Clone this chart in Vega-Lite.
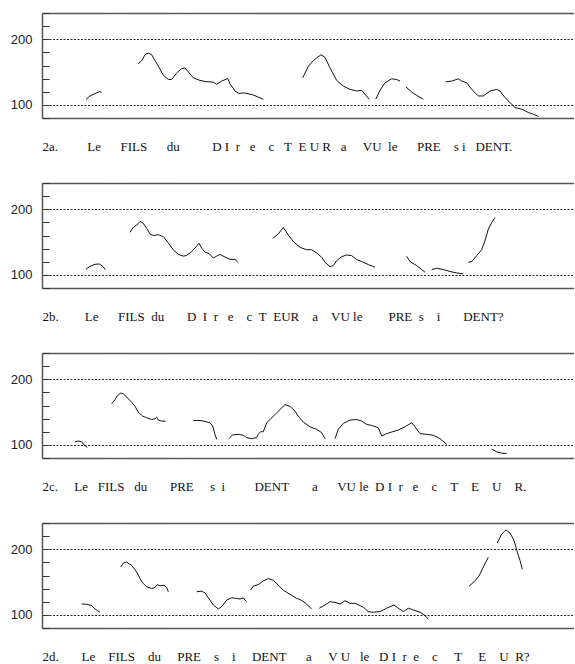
{
"$schema": "https://vega.github.io/schema/vega-lite/v6.json",
"padding": {"left": 10, "top": 12, "right": 0, "bottom": 0},
"background": "white",
"bounds": "flush",
"spacing": 65,
"config": {
  "view": {"stroke": null},
  "line": {"color": "#111", "strokeWidth": 1},
  "axisY": {
    "labelFont": "Liberation Sans", "labelFontSize": 13, "labelColor": "#222",
    "tickSize": -7, "tickColor": "#333", "tickWidth": 1, "labelPadding": 17,
    "domain": true, "domainColor": "#555", "domainWidth": 1.5,
    "title": null
  },
  "axisX": {
    "labels": false, "ticks": false, "domain": false, "grid": false,
    "titleX": 0, "titleY": 32, "titleAlign": "left", "titleAnchor": "start", "titleBaseline": "alphabetic",
    "titleFont": "Liberation Serif", "titleFontSize": 13, "titleFontWeight": "normal", "titleColor": "#111"
  }
},
"datasets": {
  "p2a": [
    {"s":"A","t":44,"f":108.5},{"s":"A","t":48,"f":113.6},{"s":"A","t":53,"f":117.1},{"s":"A","t":57.3,"f":120.1},{"s":"A","t":59.7,"f":119.1},
    {"s":"B","t":96.3,"f":162.8},{"s":"B","t":99.7,"f":167.3},{"s":"B","t":103,"f":176.4},{"s":"B","t":106.3,"f":178.9},{"s":"B","t":109.7,"f":176.4},{"s":"B","t":113,"f":167.3},{"s":"B","t":117.3,"f":156.3},{"s":"B","t":121.3,"f":145.2},{"s":"B","t":126.3,"f":138.7},{"s":"B","t":129.7,"f":138.7},{"s":"B","t":134.7,"f":148.7},{"s":"B","t":139.7,"f":155.3},{"s":"B","t":143,"f":156.3},{"s":"B","t":146.3,"f":150.3},{"s":"B","t":151.3,"f":141.2},{"s":"B","t":158,"f":137.2},{"s":"B","t":164.7,"f":135.2},{"s":"B","t":171.3,"f":134.7},{"s":"B","t":174.7,"f":131.2},{"s":"B","t":179.7,"f":136.2},{"s":"B","t":185.7,"f":140.2},{"s":"B","t":188,"f":132.2},{"s":"B","t":193,"f":121.1},{"s":"B","t":196.3,"f":117.6},{"s":"B","t":203,"f":118.1},{"s":"B","t":211.3,"f":115.1},{"s":"B","t":221.3,"f":108.5},
    {"s":"C","t":260.7,"f":141.2},{"s":"C","t":266.3,"f":158.8},{"s":"C","t":271.3,"f":167.3},{"s":"C","t":275.3,"f":172.4},{"s":"C","t":279,"f":176.4},{"s":"C","t":283,"f":172.4},{"s":"C","t":288,"f":156.3},{"s":"C","t":294.7,"f":137.2},{"s":"C","t":301.3,"f":128.6},{"s":"C","t":308,"f":123.6},{"s":"C","t":314.7,"f":121.1},{"s":"C","t":319.7,"f":122.1},{"s":"C","t":323,"f":116.1},{"s":"C","t":327.3,"f":108.5},
    {"s":"D","t":333.7,"f":108.5},{"s":"D","t":338,"f":122.1},{"s":"D","t":343,"f":133.7},{"s":"D","t":349.7,"f":139.7},{"s":"D","t":354.7,"f":138.7},{"s":"D","t":358,"f":136.2},
    {"s":"E","t":364,"f":127.1},{"s":"E","t":371.3,"f":117.6},{"s":"E","t":381.3,"f":108.5},
    {"s":"F","t":403.7,"f":135.2},{"s":"F","t":409.7,"f":136.2},{"s":"F","t":416.3,"f":139.7},{"s":"F","t":419.7,"f":136.2},{"s":"F","t":424.7,"f":133.7},{"s":"F","t":429.7,"f":123.6},{"s":"F","t":436.3,"f":113.6},{"s":"F","t":441.3,"f":113.6},{"s":"F","t":448,"f":121.1},{"s":"F","t":454.7,"f":123.6},{"s":"F","t":458,"f":121.1},{"s":"F","t":463,"f":111.1},{"s":"F","t":468,"f":103.5},{"s":"F","t":473,"f":96},{"s":"F","t":479.7,"f":93.5},{"s":"F","t":486.3,"f":88.4},{"s":"F","t":491.3,"f":85.9},{"s":"F","t":496.3,"f":82.4}
  ],
  "p2b": [
    {"s":"A","t":44,"f":108.5},{"s":"A","t":48,"f":113.1},{"s":"A","t":53,"f":116.1},{"s":"A","t":57.3,"f":116.6},{"s":"A","t":60.7,"f":113.1},{"s":"A","t":63.3,"f":108},
    {"s":"B","t":88,"f":164.8},{"s":"B","t":91.3,"f":172.4},{"s":"B","t":94.7,"f":175.9},{"s":"B","t":98,"f":181.4},{"s":"B","t":101.3,"f":178.4},{"s":"B","t":104.7,"f":170.9},{"s":"B","t":108,"f":162.3},{"s":"B","t":111.3,"f":159.8},{"s":"B","t":116.3,"f":161.3},{"s":"B","t":121.3,"f":158.3},{"s":"B","t":126.3,"f":148.7},{"s":"B","t":131.3,"f":138.2},{"s":"B","t":136.3,"f":131.2},{"s":"B","t":141.3,"f":128.6},{"s":"B","t":144.7,"f":129.6},{"s":"B","t":149.7,"f":135.7},{"s":"B","t":153,"f":140.7},{"s":"B","t":157,"f":148.2},{"s":"B","t":159.7,"f":140.7},{"s":"B","t":163,"f":134.7},{"s":"B","t":167.3,"f":132.2},{"s":"B","t":171.3,"f":125.6},{"s":"B","t":174.7,"f":128.6},{"s":"B","t":178,"f":131.2},{"s":"B","t":183,"f":127.1},{"s":"B","t":188,"f":123.6},{"s":"B","t":193,"f":123.6},{"s":"B","t":196.3,"f":118.6},
    {"s":"C","t":230.7,"f":155.8},{"s":"C","t":236.3,"f":162.3},{"s":"C","t":241.3,"f":172.4},{"s":"C","t":246.3,"f":160.8},{"s":"C","t":251.3,"f":150.8},{"s":"C","t":258,"f":141.9},{"s":"C","t":264.7,"f":138.4},{"s":"C","t":269.7,"f":138.4},{"s":"C","t":274.7,"f":133.3},{"s":"C","t":279.7,"f":126.8},{"s":"C","t":283,"f":119.2},{"s":"C","t":288,"f":112.6},{"s":"C","t":291.3,"f":114.1},{"s":"C","t":294.7,"f":121.7},{"s":"C","t":299.7,"f":127.8},{"s":"C","t":304.7,"f":130.3},{"s":"C","t":309.7,"f":129.3},{"s":"C","t":314.7,"f":123.2},{"s":"C","t":319.7,"f":120.2},{"s":"C","t":326.3,"f":115.7},{"s":"C","t":333,"f":111.6},
    {"s":"D","t":364.7,"f":128.3},{"s":"D","t":368,"f":120.2},{"s":"D","t":374.7,"f":114.1},{"s":"D","t":379.7,"f":108.1},{"s":"D","t":383,"f":104},
    {"s":"E","t":389.7,"f":108.1},{"s":"E","t":394.7,"f":110.1},{"s":"E","t":401.3,"f":108.1},{"s":"E","t":408,"f":105.1},{"s":"E","t":414.7,"f":103},{"s":"E","t":421.3,"f":101.5},
    {"s":"F","t":426.3,"f":119.2},{"s":"F","t":429.7,"f":120.2},{"s":"F","t":434.7,"f":129.3},{"s":"F","t":439.7,"f":138.4},{"s":"F","t":443,"f":152},{"s":"F","t":446.3,"f":169.7},{"s":"F","t":449.7,"f":179.8},{"s":"F","t":453,"f":187.4}
  ],
  "p2c": [
    {"s":"A","t":33,"f":104.5},{"s":"A","t":36.3,"f":106},{"s":"A","t":39.7,"f":104.5},{"s":"A","t":42,"f":100},{"s":"A","t":45.3,"f":96.5},
    {"s":"B","t":69.7,"f":162.8},{"s":"B","t":73,"f":168.8},{"s":"B","t":75.3,"f":174.9},{"s":"B","t":78.7,"f":178.9},{"s":"B","t":81.3,"f":177.9},{"s":"B","t":84.7,"f":172.9},{"s":"B","t":89.7,"f":164.8},{"s":"B","t":93,"f":158.8},{"s":"B","t":96.3,"f":149.7},{"s":"B","t":100.7,"f":143.7},{"s":"B","t":104.7,"f":141.2},{"s":"B","t":109.7,"f":138.7},{"s":"B","t":113,"f":139.7},{"s":"B","t":114.7,"f":142.2},{"s":"B","t":116.3,"f":137.7},{"s":"B","t":119.7,"f":136.2},{"s":"B","t":123.7,"f":136.2},
    {"s":"C","t":151.3,"f":137.2},{"s":"C","t":158,"f":137.2},{"s":"C","t":163,"f":135.7},{"s":"C","t":168,"f":133.7},{"s":"C","t":170.7,"f":128.6},{"s":"C","t":173,"f":116.1},{"s":"C","t":174.7,"f":108.5},
    {"s":"D","t":187,"f":109.5},{"s":"D","t":190.3,"f":115.1},{"s":"D","t":196.3,"f":116.1},{"s":"D","t":201.3,"f":114.6},{"s":"D","t":204.7,"f":111.1},{"s":"D","t":209.7,"f":109.5},{"s":"D","t":214.7,"f":111.1},{"s":"D","t":216.3,"f":116.1},{"s":"D","t":218.7,"f":120.1},{"s":"D","t":221.3,"f":120.1},{"s":"D","t":224.7,"f":133.7},{"s":"D","t":228,"f":138.7},{"s":"D","t":233,"f":146.2},{"s":"D","t":238,"f":153.8},{"s":"D","t":243,"f":161.3},{"s":"D","t":248,"f":158.8},{"s":"D","t":253,"f":151.3},{"s":"D","t":256.3,"f":143.7},{"s":"D","t":261.3,"f":134.7},{"s":"D","t":268,"f":127.6},{"s":"D","t":274.7,"f":123.6},{"s":"D","t":279.7,"f":118.6},{"s":"D","t":283,"f":109.5},
    {"s":"E","t":293,"f":109.5},{"s":"E","t":296.3,"f":123.6},{"s":"E","t":301.3,"f":132.7},{"s":"E","t":308,"f":137.7},{"s":"E","t":314.7,"f":138.7},{"s":"E","t":319.7,"f":136.2},{"s":"E","t":324.7,"f":131.2},{"s":"E","t":329.7,"f":129.6},{"s":"E","t":336.3,"f":126.1},{"s":"E","t":339.7,"f":113.6},{"s":"E","t":344.7,"f":117.1},{"s":"E","t":349.7,"f":119.6},{"s":"E","t":356.3,"f":122.6},{"s":"E","t":363,"f":127.6},{"s":"E","t":369.7,"f":133.7},{"s":"E","t":373,"f":127.6},{"s":"E","t":378,"f":117.1},{"s":"E","t":384.7,"f":116.1},{"s":"E","t":391.3,"f":114.6},{"s":"E","t":398,"f":109.5},{"s":"E","t":404.7,"f":101},
    {"s":"F","t":449.7,"f":93.5},{"s":"F","t":454.7,"f":89.4},{"s":"F","t":459.7,"f":87.4},{"s":"F","t":464.7,"f":86.9}
  ],
  "p2d": [
    {"s":"A","t":39.7,"f":116.6},{"s":"A","t":44.7,"f":116.1},{"s":"A","t":49.7,"f":114.1},{"s":"A","t":53,"f":109},{"s":"A","t":58,"f":104},
    {"s":"B","t":78.7,"f":172.9},{"s":"B","t":81.3,"f":178.9},{"s":"B","t":84.7,"f":180.4},{"s":"B","t":89.7,"f":175.4},{"s":"B","t":94.7,"f":165.3},{"s":"B","t":98,"f":155.3},{"s":"B","t":101.3,"f":147.7},{"s":"B","t":104.7,"f":142.7},{"s":"B","t":109.7,"f":140.2},{"s":"B","t":113,"f":141.7},{"s":"B","t":115.3,"f":146.2},{"s":"B","t":118,"f":144.2},{"s":"B","t":122,"f":145.2},{"s":"B","t":124.7,"f":141.7},{"s":"B","t":126.3,"f":135.2},
    {"s":"C","t":154.7,"f":135.2},{"s":"C","t":159,"f":136.2},{"s":"C","t":163,"f":133.7},{"s":"C","t":166.3,"f":126.1},{"s":"C","t":171.3,"f":115.1},{"s":"C","t":176.3,"f":109},{"s":"C","t":179.7,"f":112.6},{"s":"C","t":184.7,"f":122.6},{"s":"C","t":189.7,"f":126.1},{"s":"C","t":194.7,"f":125.1},{"s":"C","t":198,"f":124.1},{"s":"C","t":201.3,"f":126.1},{"s":"C","t":203.7,"f":121.1},{"s":"C","t":204.7,"f":120.1},
    {"s":"D","t":208.7,"f":137.7},{"s":"D","t":211.3,"f":143.7},{"s":"D","t":216.3,"f":146.2},{"s":"D","t":221.3,"f":151.8},{"s":"D","t":226.3,"f":155.3},{"s":"D","t":231.3,"f":152.8},{"s":"D","t":236.3,"f":145.2},{"s":"D","t":241.3,"f":137.7},{"s":"D","t":248,"f":131.2},{"s":"D","t":254.7,"f":125.1},{"s":"D","t":258,"f":123.4},{"s":"D","t":263,"f":118.6},{"s":"D","t":269.7,"f":109},
    {"s":"E","t":277.3,"f":110.1},{"s":"E","t":283,"f":115.1},{"s":"E","t":288,"f":120.1},{"s":"E","t":293,"f":119.1},{"s":"E","t":298,"f":116.6},{"s":"E","t":303,"f":121.6},{"s":"E","t":308,"f":117.6},{"s":"E","t":313,"f":117.6},{"s":"E","t":318,"f":114.1},{"s":"E","t":321.3,"f":111.6},{"s":"E","t":326.3,"f":105},{"s":"E","t":331.3,"f":104},{"s":"E","t":338,"f":105},{"s":"E","t":344.7,"f":110.1},{"s":"E","t":352,"f":115.1},{"s":"E","t":356.3,"f":110.1},{"s":"E","t":361.3,"f":105},{"s":"E","t":366.3,"f":110.1},{"s":"E","t":371.3,"f":107.5},{"s":"E","t":378,"f":104},{"s":"E","t":383,"f":99},{"s":"E","t":386.3,"f":93.5},
    {"s":"F","t":427,"f":143.7},{"s":"F","t":432,"f":150.3},{"s":"F","t":437,"f":159.3},{"s":"F","t":441.3,"f":172.9},{"s":"F","t":446.3,"f":187.9},
    {"s":"G","t":455.3,"f":209.5},{"s":"G","t":459.7,"f":223.1},{"s":"G","t":464,"f":229.6},{"s":"G","t":468,"f":224.6},{"s":"G","t":471.3,"f":215.6},{"s":"G","t":473,"f":208},{"s":"G","t":475.3,"f":195.5},{"s":"G","t":478,"f":182.9},{"s":"G","t":480.3,"f":169.3}
  ]
},
"vconcat": [
  {
    "width": 532, "height": 105,
    "data": {"name": "p2a"},
    "mark": {"type": "line"},
    "encoding": {
      "x": {"field": "t", "type": "quantitative", "scale": {"domain": [0, 532]}, "axis": {"title": "2a.\u00a0\u00a0\u00a0\u00a0\u00a0\u00a0\u00a0\u00a0\u00a0Le\u00a0\u00a0\u00a0\u00a0\u00a0\u00a0FILS\u00a0\u00a0\u00a0\u00a0\u00a0\u00a0du\u00a0\u00a0\u00a0\u00a0\u00a0\u00a0\u00a0\u00a0\u00a0\u00a0D\u00a0I\u00a0\u00a0r\u00a0\u00a0\u00a0e\u00a0\u00a0\u00a0\u00a0c\u00a0\u00a0\u00a0T\u00a0\u00a0E\u00a0U\u00a0R\u00a0\u00a0\u00a0a\u00a0\u00a0\u00a0\u00a0\u00a0VU\u00a0\u00a0le\u00a0\u00a0\u00a0\u00a0\u00a0\u00a0PRE\u00a0\u00a0\u00a0\u00a0s\u00a0i\u00a0\u00a0\u00a0DENT."}},
      "y": {"field": "f", "type": "quantitative", "scale": {"domain": [80, 240]}, "axis": {
        "values": [80, 100, 120, 140, 160, 180, 200, 220, 240],
        "labelExpr": "datum.value == 100 || datum.value == 200 ? datum.label : ''",
        "grid": true,
        "gridColor": {"condition": {"test": "datum.value == 80 || datum.value == 240", "value": "#555"}, "value": "#222"},
        "gridWidth": {"condition": {"test": "datum.value == 80 || datum.value == 240", "value": 1.5}, "value": 1},
        "gridDash": {"condition": {"test": "datum.value == 80 || datum.value == 240", "value": [1, 0]}, "value": [2, 1.5]},
        "gridOpacity": {"condition": {"test": "datum.value == 80 || datum.value == 240 || datum.value == 100 || datum.value == 200", "value": 1}, "value": 0}
      }},
      "detail": {"field": "s"}
    }
  },
  {
    "width": 532, "height": 105,
    "data": {"name": "p2b"},
    "mark": {"type": "line"},
    "encoding": {
      "x": {"field": "t", "type": "quantitative", "scale": {"domain": [0, 532]}, "axis": {"title": "2b.\u00a0\u00a0\u00a0\u00a0\u00a0\u00a0\u00a0\u00a0Le\u00a0\u00a0\u00a0\u00a0\u00a0\u00a0FILS\u00a0\u00a0du\u00a0\u00a0\u00a0\u00a0\u00a0\u00a0\u00a0D\u00a0\u00a0I\u00a0\u00a0r\u00a0\u00a0\u00a0e\u00a0\u00a0\u00a0\u00a0c\u00a0\u00a0T\u00a0\u00a0EUR\u00a0\u00a0\u00a0\u00a0a\u00a0\u00a0\u00a0\u00a0VU\u00a0le\u00a0\u00a0\u00a0\u00a0\u00a0\u00a0\u00a0\u00a0PRE\u00a0\u00a0s\u00a0\u00a0\u00a0\u00a0i\u00a0\u00a0\u00a0\u00a0\u00a0\u00a0\u00a0DENT?"}},
      "y": {"field": "f", "type": "quantitative", "scale": {"domain": [80, 240]}, "axis": {
        "values": [80, 100, 120, 140, 160, 180, 200, 220, 240],
        "labelExpr": "datum.value == 100 || datum.value == 200 ? datum.label : ''",
        "grid": true,
        "gridColor": {"condition": {"test": "datum.value == 80 || datum.value == 240", "value": "#555"}, "value": "#222"},
        "gridWidth": {"condition": {"test": "datum.value == 80 || datum.value == 240", "value": 1.5}, "value": 1},
        "gridDash": {"condition": {"test": "datum.value == 80 || datum.value == 240", "value": [1, 0]}, "value": [2, 1.5]},
        "gridOpacity": {"condition": {"test": "datum.value == 80 || datum.value == 240 || datum.value == 100 || datum.value == 200", "value": 1}, "value": 0}
      }},
      "detail": {"field": "s"}
    }
  },
  {
    "width": 532, "height": 105,
    "data": {"name": "p2c"},
    "mark": {"type": "line"},
    "encoding": {
      "x": {"field": "t", "type": "quantitative", "scale": {"domain": [0, 532]}, "axis": {"title": "2c.\u00a0\u00a0\u00a0\u00a0\u00a0Le\u00a0\u00a0\u00a0FILS\u00a0\u00a0\u00a0du\u00a0\u00a0\u00a0\u00a0\u00a0\u00a0\u00a0PRE\u00a0\u00a0\u00a0\u00a0\u00a0s\u00a0\u00a0i\u00a0\u00a0\u00a0\u00a0\u00a0\u00a0\u00a0\u00a0\u00a0DENT\u00a0\u00a0\u00a0\u00a0\u00a0\u00a0\u00a0a\u00a0\u00a0\u00a0\u00a0\u00a0\u00a0VU\u00a0le\u00a0\u00a0D\u00a0I\u00a0\u00a0r\u00a0\u00a0\u00a0e\u00a0\u00a0\u00a0\u00a0c\u00a0\u00a0\u00a0\u00a0T\u00a0\u00a0\u00a0\u00a0E\u00a0\u00a0\u00a0\u00a0U\u00a0\u00a0\u00a0\u00a0R."}},
      "y": {"field": "f", "type": "quantitative", "scale": {"domain": [80, 240]}, "axis": {
        "values": [80, 100, 120, 140, 160, 180, 200, 220, 240],
        "labelExpr": "datum.value == 100 || datum.value == 200 ? datum.label : ''",
        "grid": true,
        "gridColor": {"condition": {"test": "datum.value == 80 || datum.value == 240", "value": "#555"}, "value": "#222"},
        "gridWidth": {"condition": {"test": "datum.value == 80 || datum.value == 240", "value": 1.5}, "value": 1},
        "gridDash": {"condition": {"test": "datum.value == 80 || datum.value == 240", "value": [1, 0]}, "value": [2, 1.5]},
        "gridOpacity": {"condition": {"test": "datum.value == 80 || datum.value == 240 || datum.value == 100 || datum.value == 200", "value": 1}, "value": 0}
      }},
      "detail": {"field": "s"}
    }
  },
  {
    "width": 532, "height": 105,
    "data": {"name": "p2d"},
    "mark": {"type": "line"},
    "encoding": {
      "x": {"field": "t", "type": "quantitative", "scale": {"domain": [0, 532]}, "axis": {"title": "2d.\u00a0\u00a0\u00a0\u00a0\u00a0\u00a0\u00a0Le\u00a0\u00a0\u00a0\u00a0FILS\u00a0\u00a0\u00a0\u00a0du\u00a0\u00a0\u00a0\u00a0\u00a0PRE\u00a0\u00a0\u00a0\u00a0s\u00a0\u00a0\u00a0\u00a0i\u00a0\u00a0\u00a0\u00a0\u00a0DENT\u00a0\u00a0\u00a0\u00a0\u00a0\u00a0a\u00a0\u00a0\u00a0\u00a0\u00a0V\u00a0U\u00a0\u00a0\u00a0le\u00a0\u00a0\u00a0D\u00a0I\u00a0\u00a0r\u00a0\u00a0e\u00a0\u00a0\u00a0\u00a0c\u00a0\u00a0\u00a0\u00a0\u00a0T\u00a0\u00a0\u00a0\u00a0\u00a0E\u00a0\u00a0\u00a0\u00a0U\u00a0\u00a0R?"}},
      "y": {"field": "f", "type": "quantitative", "scale": {"domain": [80, 240]}, "axis": {
        "values": [80, 100, 120, 140, 160, 180, 200, 220, 240],
        "labelExpr": "datum.value == 100 || datum.value == 200 ? datum.label : ''",
        "grid": true,
        "gridColor": {"condition": {"test": "datum.value == 80 || datum.value == 240", "value": "#555"}, "value": "#222"},
        "gridWidth": {"condition": {"test": "datum.value == 80 || datum.value == 240", "value": 1.5}, "value": 1},
        "gridDash": {"condition": {"test": "datum.value == 80 || datum.value == 240", "value": [1, 0]}, "value": [2, 1.5]},
        "gridOpacity": {"condition": {"test": "datum.value == 80 || datum.value == 240 || datum.value == 100 || datum.value == 200", "value": 1}, "value": 0}
      }},
      "detail": {"field": "s"}
    }
  }
]
}
